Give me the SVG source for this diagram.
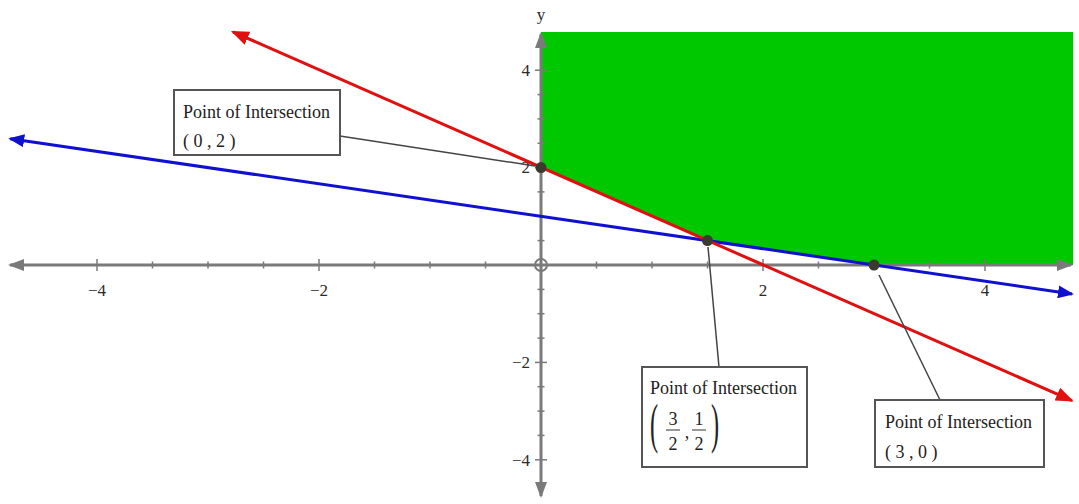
<svg xmlns="http://www.w3.org/2000/svg" width="1079" height="504" viewBox="0 0 1079 504">
<defs>
<style>
.ax{stroke:#7a7a7a;stroke-width:3;fill:none}
.tk{stroke:#7a7a7a;stroke-width:1.5}
.lbl{font-family:"Liberation Serif","Times New Roman",serif;font-size:17px;fill:#2a2a2a}
.bx{fill:#fff;stroke:#555;stroke-width:2}
.bt{font-family:"Liberation Serif","Times New Roman",serif;font-size:18px;fill:#222}
.fr{font-family:"Liberation Serif","Times New Roman",serif;font-size:18px;fill:#222;text-anchor:middle}
.cn{stroke:#444;stroke-width:1.5;fill:none}
.dot{fill:#3a3a2e}
</style>
<marker id="ag" markerUnits="userSpaceOnUse" markerWidth="16" markerHeight="12" refX="14" refY="6" orient="auto-start-reverse"><path d="M0,0 L16,6 L0,12 z" fill="#7a7a7a"/></marker>
<marker id="ar" markerUnits="userSpaceOnUse" markerWidth="18" markerHeight="14" refX="16" refY="7" orient="auto-start-reverse"><path d="M0,0 L18,7 L0,14 z" fill="#e01010"/></marker>
<marker id="ab" markerUnits="userSpaceOnUse" markerWidth="16" markerHeight="13" refX="14" refY="6.5" orient="auto-start-reverse"><path d="M0,0 L16,6.5 L0,13 z" fill="#1010d0"/></marker>
</defs>
<rect width="1079" height="504" fill="#fff"/>
<g id="region">
<polygon points="541,32 1073,32 1073,265 874,265 707.5,240.6 541,167.6" fill="#00c800"/>
</g>
<g id="axes">
<line class="ax" x1="10" y1="265" x2="1071" y2="265" marker-start="url(#ag)" marker-end="url(#ag)"/>
<line class="ax" x1="541" y1="496" x2="541" y2="34" marker-start="url(#ag)" marker-end="url(#ag)"/>
<circle cx="541" cy="265" r="6" fill="none" stroke="#7a7a7a" stroke-width="2"/>
<g class="tk">
<line x1="97" y1="259" x2="97" y2="271"/><line x1="152.5" y1="261.5" x2="152.5" y2="268.5"/><line x1="208" y1="261.5" x2="208" y2="268.5"/><line x1="263.5" y1="261.5" x2="263.5" y2="268.5"/><line x1="319" y1="259" x2="319" y2="271"/><line x1="374.5" y1="261.5" x2="374.5" y2="268.5"/><line x1="430" y1="261.5" x2="430" y2="268.5"/><line x1="485.5" y1="261.5" x2="485.5" y2="268.5"/>
<line x1="596.5" y1="261.5" x2="596.5" y2="268.5"/><line x1="652" y1="261.5" x2="652" y2="268.5"/><line x1="707.5" y1="261.5" x2="707.5" y2="268.5"/><line x1="763" y1="259" x2="763" y2="271"/><line x1="818.5" y1="261.5" x2="818.5" y2="268.5"/><line x1="874" y1="261.5" x2="874" y2="268.5"/><line x1="929.5" y1="261.5" x2="929.5" y2="268.5"/><line x1="985" y1="259" x2="985" y2="271"/>
<line x1="535" y1="70.2" x2="547" y2="70.2"/><line x1="537.5" y1="94.6" x2="544.5" y2="94.6"/><line x1="537.5" y1="118.9" x2="544.5" y2="118.9"/><line x1="537.5" y1="143.3" x2="544.5" y2="143.3"/><line x1="535" y1="167.6" x2="547" y2="167.6"/><line x1="537.5" y1="191.9" x2="544.5" y2="191.9"/><line x1="537.5" y1="216.3" x2="544.5" y2="216.3"/><line x1="537.5" y1="240.6" x2="544.5" y2="240.6"/>
<line x1="537.5" y1="289.4" x2="544.5" y2="289.4"/><line x1="537.5" y1="313.7" x2="544.5" y2="313.7"/><line x1="537.5" y1="338.1" x2="544.5" y2="338.1"/><line x1="535" y1="362.4" x2="547" y2="362.4"/><line x1="537.5" y1="386.7" x2="544.5" y2="386.7"/><line x1="537.5" y1="411.1" x2="544.5" y2="411.1"/><line x1="537.5" y1="435.4" x2="544.5" y2="435.4"/><line x1="535" y1="459.8" x2="547" y2="459.8"/>
</g>
<g class="lbl">
<text x="97" y="296" text-anchor="middle">−4</text>
<text x="319" y="296" text-anchor="middle">−2</text>
<text x="763" y="296" text-anchor="middle">2</text>
<text x="985" y="296" text-anchor="middle">4</text>
<text x="530" y="76" text-anchor="end">4</text>
<text x="530" y="173" text-anchor="end">2</text>
<text x="530" y="368" text-anchor="end">−2</text>
<text x="530" y="466" text-anchor="end">−4</text>
<text x="541" y="20" text-anchor="middle">y</text>
</g>
</g>
<g id="lines">
<line x1="10.2" y1="138.7" x2="1072" y2="293.9" stroke="#1010d0" stroke-width="3" marker-start="url(#ab)" marker-end="url(#ab)"/>
<line x1="232.8" y1="31.8" x2="1072" y2="400.6" stroke="#e01010" stroke-width="3" marker-start="url(#ar)" marker-end="url(#ar)"/>
</g>
<g id="connectors">
<line class="cn" x1="340" y1="136" x2="535" y2="166"/>
<line class="cn" x1="708" y1="247" x2="719" y2="367"/>
<line class="cn" x1="879" y1="275" x2="940" y2="400"/>
</g>
<g id="points">
<circle class="dot" cx="541" cy="167.6" r="5.5"/>
<circle class="dot" cx="707.5" cy="240.6" r="5.5"/>
<circle class="dot" cx="874" cy="265" r="5.5"/>
</g>
<g id="label-0-2">
<rect class="bx" x="174" y="90" width="166" height="65"/>
<text class="bt" x="183" y="118">Point of Intersection</text>
<text class="bt" x="183" y="147">( 0 , 2 )</text>
</g>
<g id="label-3half-1half">
<rect class="bx" x="642" y="367" width="165" height="100"/>
<text class="bt" x="650" y="394">Point of Intersection</text>
<text class="bt" transform="translate(650,442) scale(0.45,1)" style="font-size:54px">(</text>
<text class="fr" x="673" y="425">3</text>
<line x1="666" y1="430" x2="680" y2="430" stroke="#333" stroke-width="1"/>
<text class="fr" x="673" y="450">2</text>
<text class="fr" x="687" y="438">,</text>
<text class="fr" x="699" y="425">1</text>
<line x1="692" y1="430" x2="706" y2="430" stroke="#333" stroke-width="1"/>
<text class="fr" x="699" y="450">2</text>
<text class="bt" transform="translate(711,442) scale(0.45,1)" style="font-size:54px">)</text>
</g>
<g id="label-3-0">
<rect class="bx" x="875" y="400" width="169" height="67"/>
<text class="bt" x="885" y="428">Point of Intersection</text>
<text class="bt" x="885" y="458">( 3 , 0 )</text>
</g>
</svg>
